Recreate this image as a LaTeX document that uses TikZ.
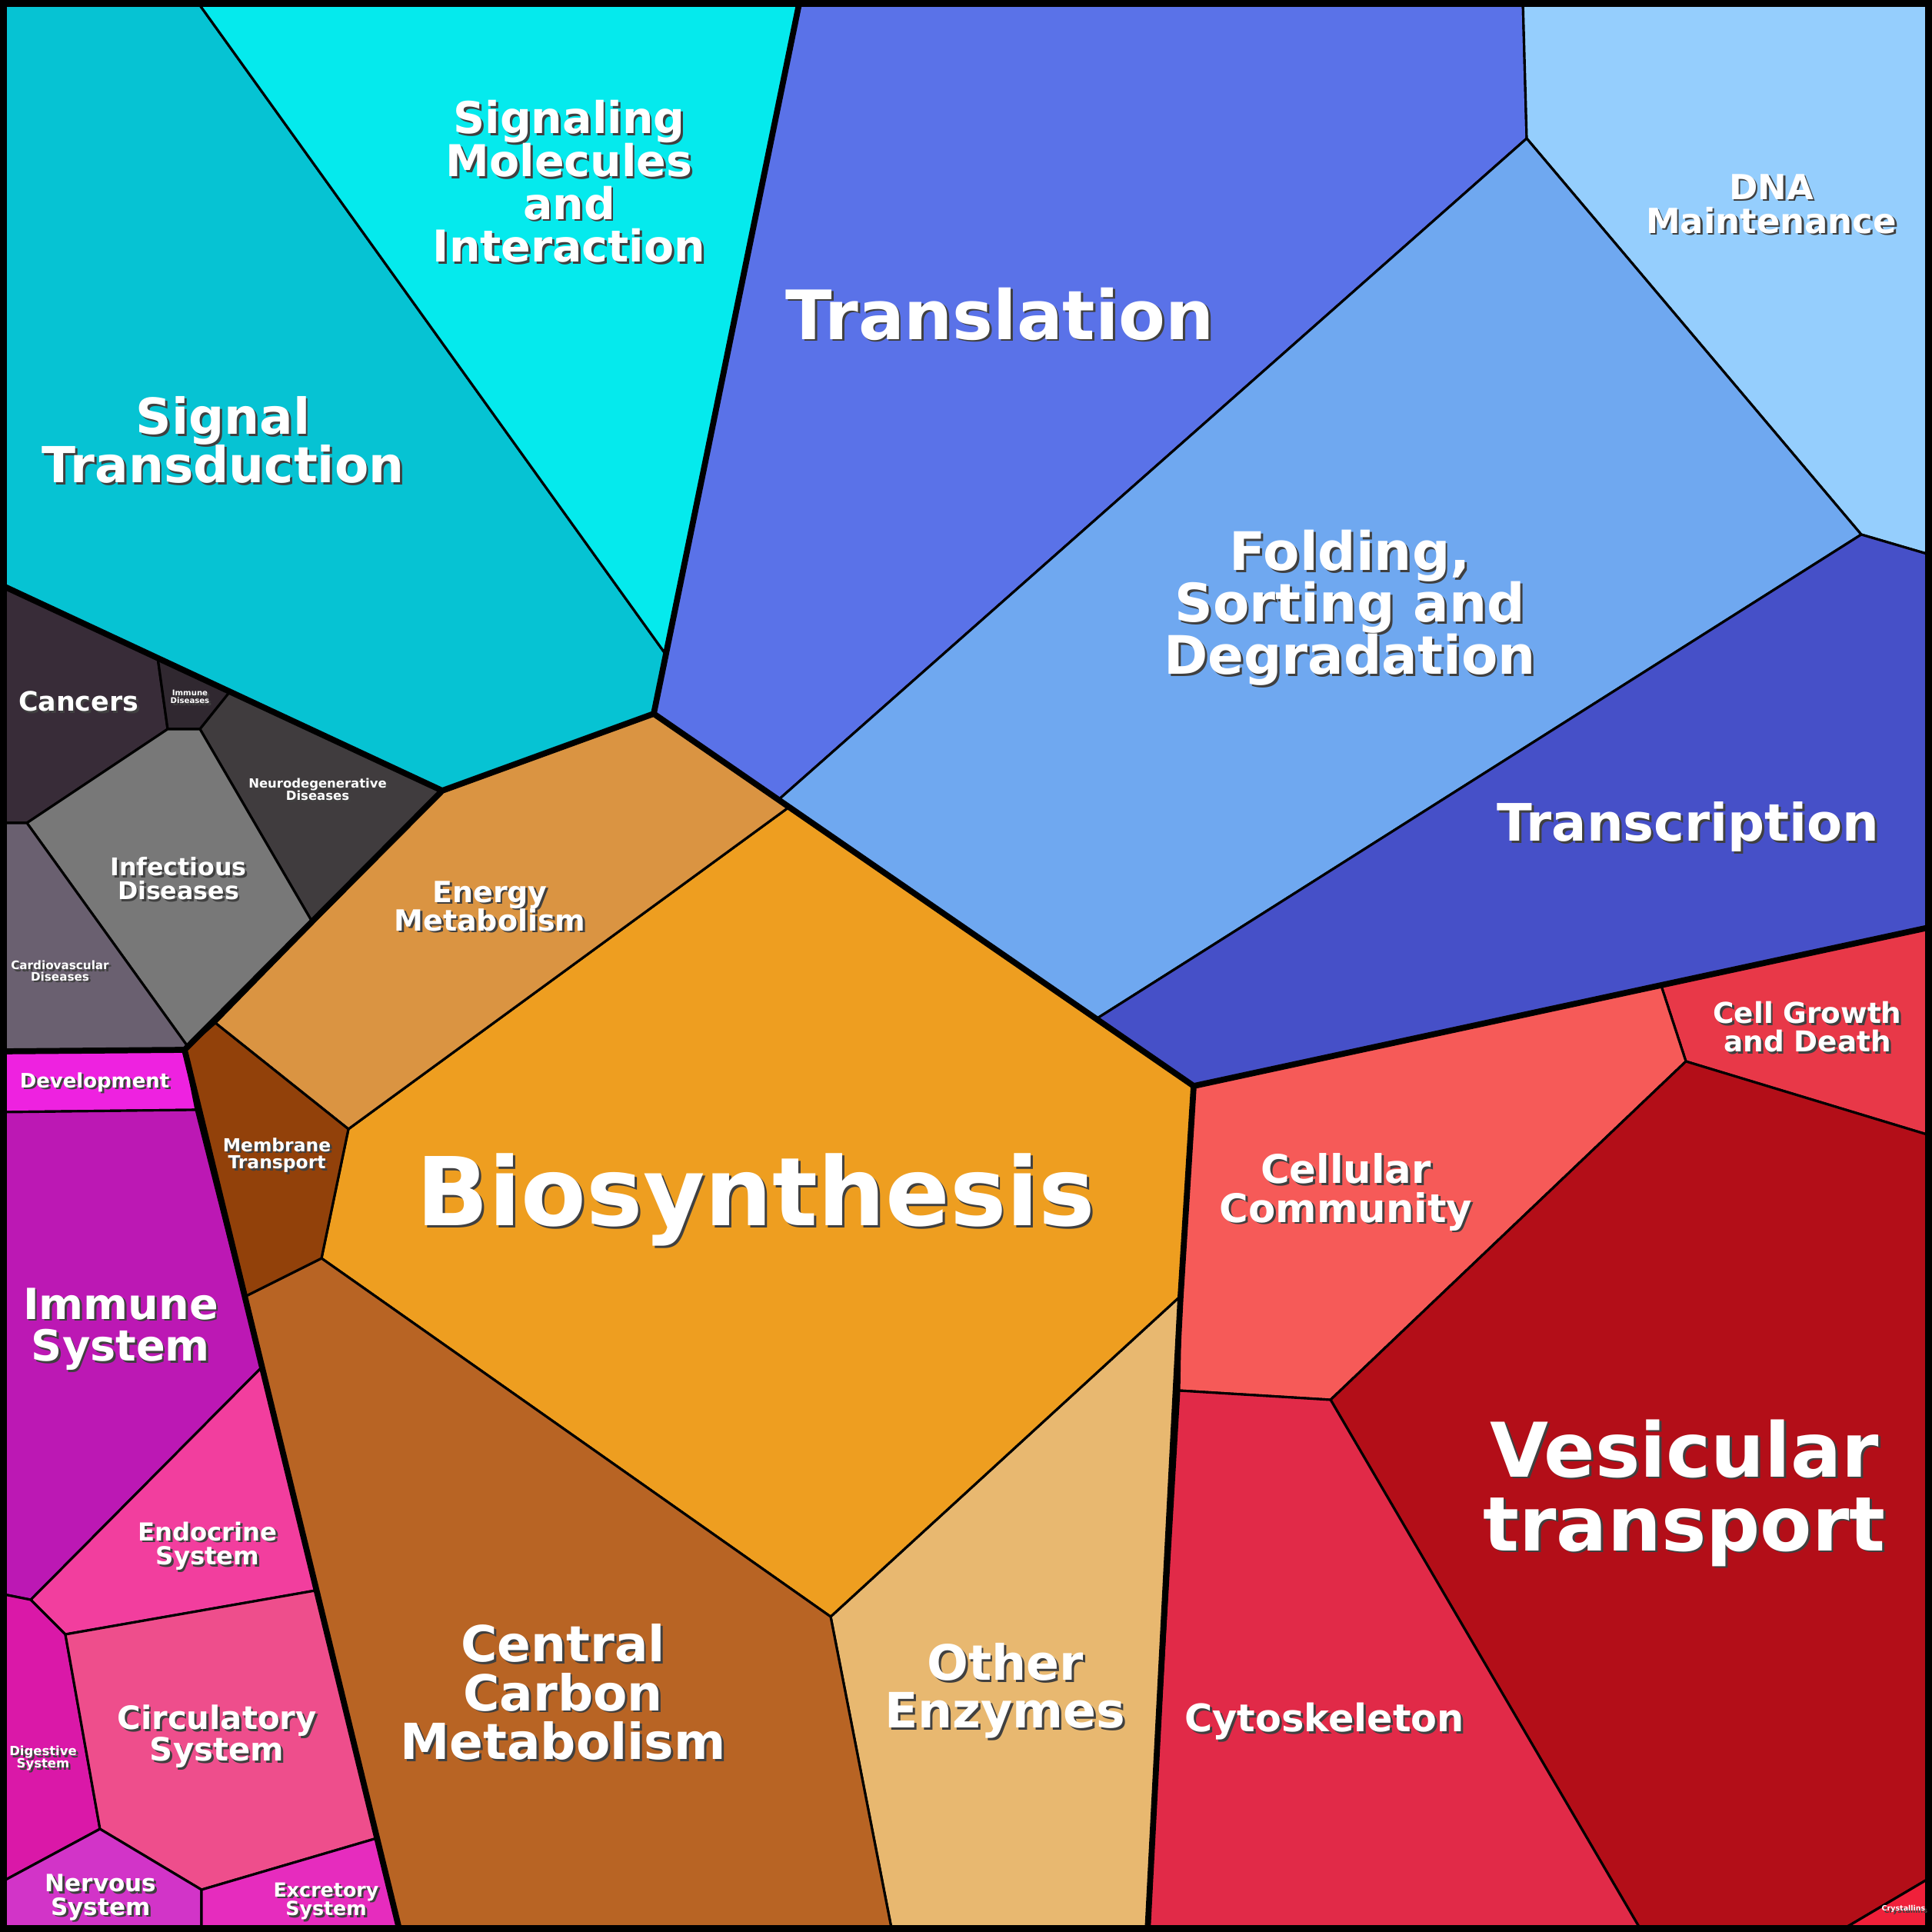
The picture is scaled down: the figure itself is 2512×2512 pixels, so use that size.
\documentclass[tikz,border=0pt]{standalone}
\usepackage{fontspec}
\setmainfont{DejaVu Sans}
\begin{document}
\begin{tikzpicture}[x=0.01cm,y=-0.01cm,
 cell/.style={draw=black,line width=0.9pt,line join=round},
 thick/.style={draw=black,line width=2.2pt,line cap=round,line join=round},
 lab/.style={text=white,align=center,inner sep=0pt},
 shd/.style={text=black!75,align=center,inner sep=0pt}]
\newcommand{\lbl}[5]{%
 \node[shd,xshift=0.8pt,yshift=-0.8pt,font=\bfseries\fontsize{1.8\dimexpr#4pt\relax}{1.76\dimexpr#4pt\relax}\selectfont] (#1s) at (#2,#3) {#5};%
 \node[lab,font=\bfseries\fontsize{1.8\dimexpr#4pt\relax}{1.76\dimexpr#4pt\relax}\selectfont] (#1) at (#2,#3) {#5};}
\useasboundingbox (0,0) rectangle (2512,2512);
\fill[black] (0,0) rectangle (2512,2512);
% top
\path[cell,fill={rgb,255:red,6;green,195;blue,211}] (0,0)--(255,0)--(865,850)--(850,928)--(575,1028)--(0,760)--cycle;
\path[cell,fill={rgb,255:red,5;green,234;blue,237}] (255,0)--(1040,0)--(865,850)--cycle;
\path[cell,fill={rgb,255:red,90;green,114;blue,232}] (1040,0)--(1980,0)--(1985,180)--(1012,1040)--(850,928)--cycle;
\path[cell,fill={rgb,255:red,149;green,206;blue,253}] (1980,0)--(2512,0)--(2512,722)--(2420,695)--(1985,180)--cycle;
\path[cell,fill={rgb,255:red,111;green,168;blue,240}] (1985,180)--(2420,695)--(1425,1325)--(1012,1040)--cycle;
\path[cell,fill={rgb,255:red,70;green,80;blue,200}] (2420,695)--(2512,722)--(2512,1205)--(1552,1412)--(1425,1325)--cycle;
% red
\path[cell,fill={rgb,255:red,232;green,56;blue,72}] (2160,1282)--(2512,1205)--(2512,1477)--(2192,1380)--cycle;
\path[cell,fill={rgb,255:red,246;green,90;blue,88}] (1552,1412)--(2160,1282)--(2192,1380)--(1730,1820)--(1533,1808)--(1535,1685)--cycle;
\path[cell,fill={rgb,255:red,179;green,14;blue,24}] (2192,1380)--(2512,1477)--(2512,2440)--(2390,2512)--(2135,2512)--(1730,1820)--cycle;
\path[cell,fill={rgb,255:red,225;green,42;blue,72}] (1533,1808)--(1730,1820)--(2135,2512)--(1492,2512)--cycle;
\path[cell,fill={rgb,255:red,240;green,32;blue,58}] (2390,2512)--(2512,2440)--(2512,2512)--cycle;
% orange
\path[cell,fill={rgb,255:red,232;green,184;blue,112}] (1535,1685)--(1492,2512)--(1160,2512)--(1080,2102)--cycle;
\path[cell,fill={rgb,255:red,238;green,158;blue,32}] (1025,1050)--(1552,1412)--(1535,1685)--(1080,2102)--(418,1636)--(453,1468)--cycle;
\path[cell,fill={rgb,255:red,184;green,100;blue,36}] (418,1636)--(1080,2102)--(1160,2512)--(520,2512)--(320,1685)--cycle;
\path[cell,fill={rgb,255:red,218;green,148;blue,66}] (850,928)--(1025,1050)--(453,1468)--(280,1330)--(575,1028)--cycle;
\path[cell,fill={rgb,255:red,146;green,65;blue,10}] (280,1330)--(453,1468)--(418,1636)--(320,1685)--(240,1365)--cycle;
% diseases
\path[cell,fill={rgb,255:red,56;green,44;blue,56}] (0,760)--(205,855)--(218,948)--(35,1070)--(0,1070)--cycle;
\path[cell,fill={rgb,255:red,48;green,40;blue,48}] (205,855)--(300,898)--(260,948)--(218,948)--cycle;
\path[cell,fill={rgb,255:red,64;green,60;blue,62}] (300,898)--(575,1028)--(405,1197)--(260,948)--cycle;
\path[cell,fill={rgb,255:red,120;green,120;blue,120}] (218,948)--(260,948)--(405,1197)--(245,1362)--(35,1070)--cycle;
\path[cell,fill={rgb,255:red,106;green,96;blue,112}] (0,1070)--(35,1070)--(245,1362)--(240,1367)--(0,1367)--cycle;
% organismal
\path[cell,fill={rgb,255:red,238;green,34;blue,224}] (0,1368)--(240,1367)--(255,1443)--(0,1446)--cycle;
\path[cell,fill={rgb,255:red,188;green,24;blue,180}] (0,1446)--(255,1443)--(340,1778)--(40,2080)--(0,2072)--cycle;
\path[cell,fill={rgb,255:red,242;green,62;blue,158}] (340,1778)--(410,2068)--(85,2125)--(40,2080)--cycle;
\path[cell,fill={rgb,255:red,218;green,24;blue,168}] (0,2072)--(40,2080)--(85,2125)--(130,2378)--(0,2448)--cycle;
\path[cell,fill={rgb,255:red,238;green,78;blue,140}] (85,2125)--(410,2068)--(490,2390)--(262,2457)--(130,2378)--cycle;
\path[cell,fill={rgb,255:red,210;green,52;blue,200}] (0,2448)--(130,2378)--(262,2457)--(262,2512)--(0,2512)--cycle;
\path[cell,fill={rgb,255:red,230;green,44;blue,190}] (262,2457)--(490,2390)--(520,2512)--(262,2512)--cycle;
% thick boundaries
\draw[thick] (1040,0)--(850,928)--(1552,1412)--(2512,1205);
\draw[thick] (1552,1412)--(1535,1685)--(1492,2512);
\draw[thick] (850,928)--(575,1028)--(240,1365)--(520,2512);
\draw[thick] (0,760)--(575,1028);
\draw[thick] (0,1367)--(240,1365);
\draw[black,line width=2.6pt] (4,4) rectangle (2508,2508);
% labels
\lbl{st}{290}{572}{10.2}{Signal\\Transduction}
\lbl{sm}{740}{236}{9}{Signaling\\Molecules\\and\\Interaction}
\lbl{tl}{1300}{408}{14}{Translation}
\lbl{dna}{2303}{265}{7.1}{DNA\\Maintenance}
\lbl{fsd}{1755}{790}{10.9}{Folding,\\Sorting and\\Degradation}
\lbl{tr}{2195}{1075}{10.6}{Transcription}
\lbl{cg}{2350}{1335}{5.9}{Cell Growth\\and Death}
\lbl{cc}{1750}{1550}{8.1}{Cellular\\Community}
\lbl{vt}{2190}{1941}{15.5}{Vesicular\\transport}
\lbl{cy}{1722}{2238}{7.8}{Cytoskeleton}
\lbl{cr}{2475}{2482}{1.5}{Crystallins}
\lbl{oe}{1307}{2198}{10}{Other\\Enzymes}
\lbl{bs}{983}{1560}{19.5}{Biosynthesis}
\lbl{ccm}{732}{2200}{10.2}{Central\\Carbon\\Metabolism}
\lbl{em}{637}{1178}{6}{Energy\\Metabolism}
\lbl{mt}{360}{1502}{3.7}{Membrane\\Transport}
\lbl{ca}{102}{912}{5.5}{Cancers}
\lbl{imd}{247}{906}{1.6}{Immune\\Diseases}
\lbl{nd}{413}{1026}{2.6}{Neurodegenerative\\Diseases}
\lbl{id}{232}{1142}{5}{Infectious\\Diseases}
\lbl{cv}{78}{1262}{2.4}{Cardiovascular\\Diseases}
\lbl{dev}{123}{1407}{4.1}{Development}
\lbl{is}{157}{1728}{8.8}{Immune\\System}
\lbl{es}{270}{2010}{5.1}{Endocrine\\System}
\lbl{cs}{282}{2258}{6.6}{Circulatory\\System}
\lbl{ds}{56}{2286}{2.6}{Digestive\\System}
\lbl{ns}{131}{2467}{4.9}{Nervous\\System}
\lbl{ex}{424}{2472}{4}{Excretory\\System}
\end{tikzpicture}
\end{document}
